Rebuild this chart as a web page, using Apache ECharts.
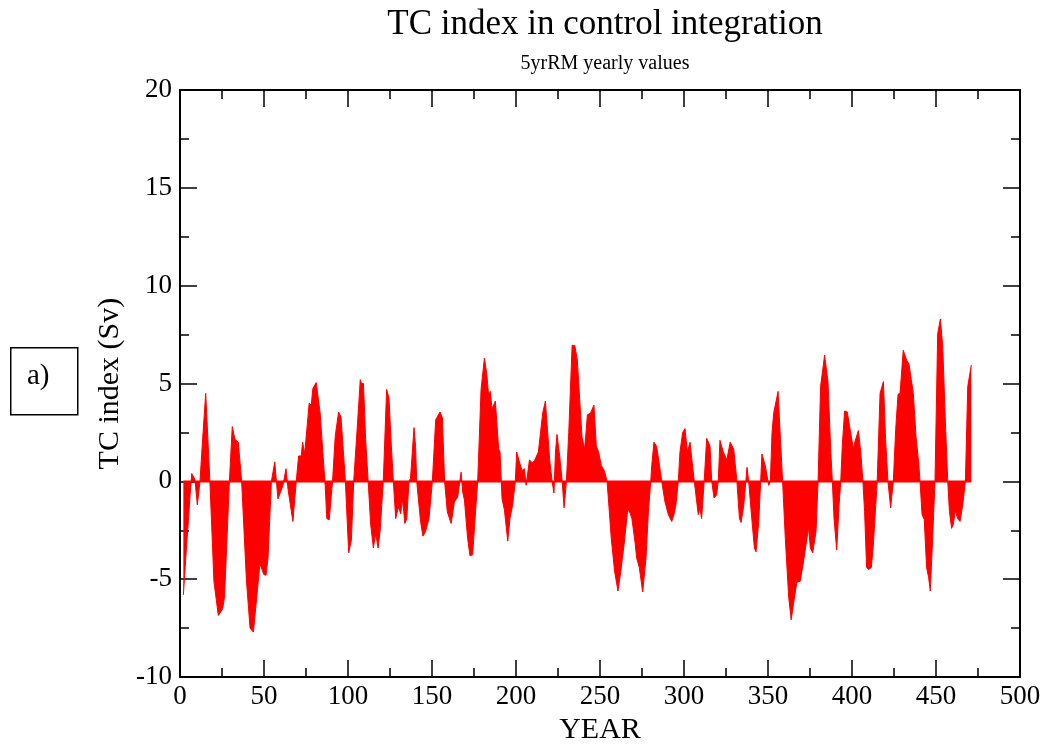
<!DOCTYPE html>
<html>
<head>
<meta charset="utf-8">
<script src="https://cdn.jsdelivr.net/npm/echarts@6/dist/echarts.min.js"></script>
<style>html,body{margin:0;padding:0;background:#fff;}#chart{width:1049px;height:750px;}</style>
</head>
<body>
<div id="chart"></div>
<script>
// Year values and TC index values (Sv)
const years = [2,3,4,5,6,7,8.9,10.3,11.9,13.5,15.3,17.8,20.2,22.8,24,25.4,26.5,29.4,31.1,32.7,34.7,36.7,39.5,41.7,43.7,47.6,49.8,51.2,52.4,54.4,56.4,57.4,58.3,59.3,61.3,63.1,64.3,67.2,69.2,70.6,72.2,73,74.2,75.5,76.9,78.1,79.1,81.1,83.4,86.4,87.4,88.8,90.8,92.4,94.4,95.8,98.4,100.4,102,103.4,106.3,107.3,108,109.2,110.5,112,113.5,115.1,116.5,117.9,119.1,121,123,124.4,125.8,127,128.4,130,131.4,132.3,133.2,133.8,135,136.3,137.2,139.3,140.2,140.9,143.2,144.6,146.2,148.2,150.2,152.2,154.8,156.2,157.5,159.1,161.4,163.3,165.3,167.3,168.3,169.3,171.2,172.6,174.2,176.2,177.2,179.2,181.2,182.6,183.7,184.7,185.7,187.7,189.7,190.5,191.7,193.1,195.1,196.4,198,199.6,200.4,202,203.6,205,206,208,209.6,211,213.3,215.9,217.5,220,221.5,222.6,223.5,224.4,226,227.5,228.6,230,231.4,233.4,235,236.5,237.9,239.3,240.9,242.5,244.4,246.4,247.8,249.2,250.8,252.6,254.2,255.7,256.7,258.7,260.7,262.3,264.3,266.2,267,269,271,271.8,273.4,275.4,277.4,278.8,280.2,280.8,282.1,283.7,285.7,287.1,288.7,290.7,292.7,294,295.2,296.6,297.6,299.2,300.6,302,303.6,304.2,305,306.2,308.5,309.5,310.5,312,313.5,315.5,316.5,317.9,319.4,320.4,321.4,323.4,325.5,327.5,329.6,330.6,331.5,333,334,335.6,337.5,338.5,340.5,341.9,342.9,344.5,346.4,347.4,348.4,349.4,350.4,351.4,352.4,353.4,356,357.4,358.7,360.3,362.3,363.8,365.2,367.2,369.2,371.2,373.2,374.2,375.2,376.6,378.6,379.8,381.3,383.7,385.7,387.3,388.3,389.3,390.9,392.3,393.3,394.2,395.6,397.2,398.6,399.6,400.8,401.8,402.8,403.8,405.2,406.5,407.5,408.7,410,411.5,412.7,415,416.7,418.7,420,421.4,423,424.6,426,427.4,428.6,430.5,432.5,433.9,435.3,436.5,438.1,439.7,440.5,441.7,443,444.4,445.6,446.6,448,449.4,451,452.6,454,455.6,457,458,459.3,460.3,461.5,462.9,464.3,465.9,467.5,468.9,471];
const tcIndex = [-5.8,-4.5,-3.2,-2.0,-0.7,0.4,0.1,-1.2,0,2.2,4.5,0,-5.1,-6.85,-6.7,-6.5,-5.9,0,2.8,2.15,2.0,0,-5,-7.5,-7.7,-4.2,-4.75,-4.8,-3.9,0,1.0,1.0,-0.9,-0.95,-0.2,0.65,-0.4,-2.05,0,1.3,1.3,2.0,1.4,2.65,4.0,3.9,4.75,5.05,3.5,-0.2,-1.9,-1.97,0,2.3,3.55,3.3,0.1,-3.65,-3.0,0,3.8,5.2,5.0,5.0,2.15,0,-2.2,-3.4,-2.65,-3.4,-2.55,0,4.7,4.25,1.8,0,-1.9,-1.3,-1.65,-0.9,-1.55,-2.15,-1.9,0,0.15,2.75,1.8,0,-2.05,-2.8,-2.55,-1.9,0,3.15,3.55,3.25,0,-1.55,-2.15,-1.05,-0.8,0.47,-0.55,-0.95,-2.9,-3.8,-3.75,-1.2,0,4.7,6.3,5.5,4.4,4.6,3.7,4.1,1.65,1.5,-0.9,-1.45,-3.05,-1.9,-1.2,0,1.5,1.0,0.55,0.65,-0.2,1.1,0.95,1.05,1.5,3.5,4.1,1.15,0,-0.6,1.5,2.4,1.3,0,-1.35,0,2.5,6.95,6.95,6.2,4.2,2.25,1.65,3.4,3.5,3.9,1.8,1.5,0.8,0.55,0,-1.7,-2.9,-4.6,-5.6,-4.65,-3.25,-1.7,-1.4,-1.9,-3.2,-3.9,-4.4,-5.65,-3.9,-1.55,0,0.8,2.0,1.8,0.65,-0.2,-1.05,-1.7,-2.05,-1.7,-1.2,0,1.5,2.5,2.7,1.5,2.0,1.5,1.55,-0.05,-1.7,-1.4,-1.9,0,2.2,1.8,0,-0.85,-0.7,0,2.1,1.5,1.1,2.0,1.65,0.8,0,-1.9,-2.1,-1.2,0.72,0,-2.05,-3.4,-3.6,-2.05,1.4,1.3,0.8,0.8,-0.2,0,2.5,3.5,4.6,2.15,0,-2.9,-5.9,-7.07,-6.25,-5.15,-5.1,-4.07,-2.9,-2.4,-3.4,-3.65,-2.55,0,4.85,6.45,5.1,1.65,0,-1.9,-3.5,-1.2,0,1.8,3.6,3.55,2.8,2.3,1.65,2.05,2.05,2.6,1.5,0,-1.55,-4.4,-4.5,-4.4,-3.25,0,4.5,5.1,2.15,0,-1.35,0,2.65,4.45,4.5,6.7,6.2,6.0,5.2,4.5,2.3,0.95,0,-1.7,-1.95,-4.4,-4.9,-5.6,-2.9,0,7.55,8.3,6.9,3.0,0,-1.55,-2.4,-2.2,-1.5,-1.9,-2.05,-1.2,0,4.85,5.95];
const baselineYears = [2, 471];
const xTicks = [0,50,100,150,200,250,300,350,400,450,500];
const yTicks = [-10,-5,0,5,10,15,20];

const seriesData = years.map((y, i) => [y, tcIndex[i]]);
const baseData = baselineYears.map(y => [y, 0]);

const FONT = 'Liberation Serif';
const chart = echarts.init(document.getElementById('chart'), null, {renderer: 'canvas'});
const axisCommon = {
  axisLine: {show: true, onZero: false, lineStyle: {color: '#000', width: 2}},
  axisTick: {show: true, inside: true, length: 17, lineStyle: {color: '#000', width: 1.5}},
  minorTick: {show: true, splitNumber: 2, length: 9, lineStyle: {color: '#000', width: 1.5}},
  splitLine: {show: false}
};
chart.setOption({
  backgroundColor: '#fff',
  animation: false,
  title: [
    {text: 'TC index in control integration', left: 600, top: 2, textAlign: 'center',
     textStyle: {fontFamily: FONT, fontSize: 35, fontWeight: 'normal', color: '#000'}},
    {text: '5yrRM yearly values', left: 600, top: 49, textAlign: 'center',
     textStyle: {fontFamily: FONT, fontSize: 20, fontWeight: 'normal', color: '#000'}}
  ],
  grid: {left: 180, right: 29, top: 90, bottom: 65, containLabel: false},
  xAxis: [
    Object.assign({}, axisCommon, {
      type: 'value', min: xTicks[0], max: xTicks[xTicks.length-1], interval: 50, position: 'bottom',
      name: 'YEAR', nameLocation: 'middle', nameGap: 34,
      nameTextStyle: {fontFamily: FONT, fontSize: 30, color: '#000'},
      axisLabel: {fontFamily: FONT, fontSize: 27, color: '#000', margin: 6}
    }),
    Object.assign({}, axisCommon, {
      type: 'value', min: xTicks[0], max: xTicks[xTicks.length-1], interval: 50, position: 'top',
      axisLabel: {show: false}
    })
  ],
  yAxis: [
    Object.assign({}, axisCommon, {
      type: 'value', min: yTicks[0], max: yTicks[yTicks.length-1], interval: 5, position: 'left',
      name: 'TC index (Sv)', nameLocation: 'middle', nameGap: 54,
      nameTextStyle: {fontFamily: FONT, fontSize: 30, color: '#000'},
      axisLabel: {fontFamily: FONT, fontSize: 27, color: '#000', margin: 8}
    }),
    Object.assign({}, axisCommon, {
      type: 'value', min: yTicks[0], max: yTicks[yTicks.length-1], interval: 5, position: 'right',
      axisLabel: {show: false}
    })
  ],
  series: [
    {
      type: 'line', data: seriesData, xAxisIndex: 0, yAxisIndex: 0,
      showSymbol: false, symbol: 'none',
      lineStyle: {color: '#ff0000', width: 1},
      areaStyle: {color: '#ff0000', opacity: 1, origin: 0},
      silent: true
    },
    {
      type: 'line', data: baseData, xAxisIndex: 0, yAxisIndex: 0,
      showSymbol: false, symbol: 'none',
      lineStyle: {color: '#ff0000', width: 2},
      silent: true
    }
  ],
  graphic: [
    {type: 'rect', left: 10, top: 347, shape: {width: 67, height: 67},
     style: {fill: '#fff', stroke: '#000', lineWidth: 1.5}},
    {type: 'text', left: 27, top: 362,
     style: {text: 'a)', font: '29px "Liberation Serif"', fill: '#000'}}
  ]
});
</script>
</body>
</html>
